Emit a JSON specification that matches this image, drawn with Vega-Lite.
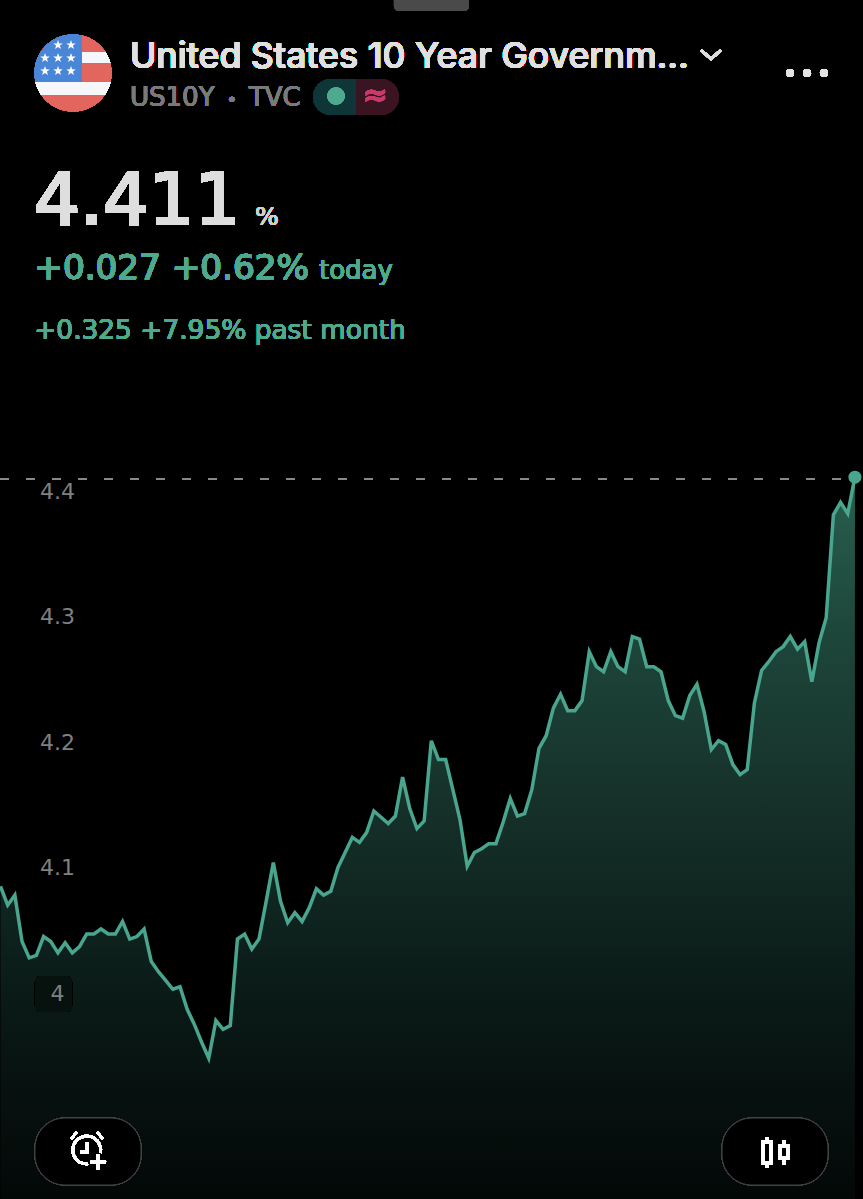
{
"$schema":"https://vega.github.io/schema/vega-lite/v6.json",
"width":863,"height":1199,"padding":0,"autosize":{"type":"none"},
"background":"#000000",
"config":{"view":{"stroke":null},"text":{"font":"DejaVu Sans"}},
"data":{"values":[
{"i":0,"y":4.085},{"i":1,"y":4.070},{"i":2,"y":4.078},{"i":3,"y":4.041},{"i":4,"y":4.028},{"i":5,"y":4.030},{"i":6,"y":4.045},{"i":7,"y":4.041},{"i":8,"y":4.032},{"i":9,"y":4.040},
{"i":10,"y":4.032},{"i":11,"y":4.037},{"i":12,"y":4.047},{"i":13,"y":4.047},{"i":14,"y":4.051},{"i":15,"y":4.047},{"i":16,"y":4.047},{"i":17,"y":4.057},{"i":18,"y":4.043},{"i":19,"y":4.045},
{"i":20,"y":4.051},{"i":21,"y":4.025},{"i":22,"y":4.017},{"i":23,"y":4.010},{"i":24,"y":4.003},{"i":25,"y":4.005},{"i":26,"y":3.987},{"i":27,"y":3.975},{"i":28,"y":3.961},{"i":29,"y":3.948},
{"i":30,"y":3.978},{"i":31,"y":3.971},{"i":32,"y":3.974},{"i":33,"y":4.043},{"i":34,"y":4.047},{"i":35,"y":4.035},{"i":36,"y":4.043},{"i":37,"y":4.073},{"i":38,"y":4.104},{"i":39,"y":4.073},
{"i":40,"y":4.056},{"i":41,"y":4.064},{"i":42,"y":4.057},{"i":43,"y":4.068},{"i":44,"y":4.083},{"i":45,"y":4.078},{"i":46,"y":4.081},{"i":47,"y":4.100},{"i":48,"y":4.112},{"i":49,"y":4.124},
{"i":50,"y":4.120},{"i":51,"y":4.128},{"i":52,"y":4.145},{"i":53,"y":4.140},{"i":54,"y":4.135},{"i":55,"y":4.141},{"i":56,"y":4.172},{"i":57,"y":4.147},{"i":58,"y":4.131},{"i":59,"y":4.137},
{"i":60,"y":4.201},{"i":61,"y":4.186},{"i":62,"y":4.186},{"i":63,"y":4.162},{"i":64,"y":4.138},{"i":65,"y":4.101},{"i":66,"y":4.112},{"i":67,"y":4.115},{"i":68,"y":4.119},{"i":69,"y":4.119},
{"i":70,"y":4.136},{"i":71,"y":4.155},{"i":72,"y":4.141},{"i":73,"y":4.143},{"i":74,"y":4.162},{"i":75,"y":4.195},{"i":76,"y":4.205},{"i":77,"y":4.227},{"i":78,"y":4.238},{"i":79,"y":4.225},
{"i":80,"y":4.225},{"i":81,"y":4.233},{"i":82,"y":4.272},{"i":83,"y":4.260},{"i":84,"y":4.256},{"i":85,"y":4.272},{"i":86,"y":4.260},{"i":87,"y":4.256},{"i":88,"y":4.284},{"i":89,"y":4.282},
{"i":90,"y":4.260},{"i":91,"y":4.260},{"i":92,"y":4.256},{"i":93,"y":4.233},{"i":94,"y":4.221},{"i":95,"y":4.219},{"i":96,"y":4.237},{"i":97,"y":4.246},{"i":98,"y":4.224},{"i":99,"y":4.194},
{"i":100,"y":4.201},{"i":101,"y":4.198},{"i":102,"y":4.182},{"i":103,"y":4.174},{"i":104,"y":4.178},{"i":105,"y":4.231},{"i":106,"y":4.257},{"i":107,"y":4.264},{"i":108,"y":4.272},{"i":109,"y":4.276},
{"i":110,"y":4.284},{"i":111,"y":4.274},{"i":112,"y":4.280},{"i":113,"y":4.248},{"i":114,"y":4.279},{"i":115,"y":4.299},{"i":116,"y":4.381},{"i":117,"y":4.391},{"i":118,"y":4.382},{"i":119,"y":4.411}
]},
"layer":[
{"mark":{"type":"area","interpolate":"linear","fill":{"gradient":"linear","x1":0,"y1":0,"x2":0,"y2":1,"stops":[{"offset":0,"color":"#28604f"},{"offset":0.2,"color":"#1e483c"},{"offset":0.45,"color":"#16312a"},{"offset":0.72,"color":"#0a1a17"},{"offset":1,"color":"#030807"}]}},
 "encoding":{
  "x":{"field":"i","type":"quantitative","axis":null,"scale":{"domain":[-0.0696,120.125],"nice":false,"zero":false}},
  "y":{"field":"y","type":"quantitative","scale":{"domain":[3.83586,4.79124],"nice":false,"zero":false},
   "axis":{"title":null,"orient":"left","values":[4,4.1,4.2,4.3,4.4],"format":"~g","grid":false,"domain":false,"ticks":false,"labelAlign":"center","labelBaseline":"middle","labelPadding":-57,"labelFont":"DejaVu Sans","labelFontSize":22,"labelColor":"#808080","minExtent":0,"maxExtent":0,"zindex":2}},
  "y2":{"datum":3.83586}}},
{"mark":{"type":"rect","fill":"#07120f","cornerRadius":6},"encoding":{"x":{"datum":4.8},"x2":{"datum":9.96},"y":{"datum":4.0135},"y2":{"datum":3.9849}}},
{"mark":{"type":"line","color":"#4aa58e","strokeWidth":3.5,"strokeJoin":"miter","interpolate":"linear"},"encoding":{"x":{"field":"i","type":"quantitative"},"y":{"field":"y","type":"quantitative"}}},
{"mark":{"type":"rule","color":"#8a8a8a","strokeWidth":1,"strokeDash":[8,18]},"encoding":{"x":{"datum":0},"x2":{"datum":117.5},"y":{"datum":4.4095}}},
{"transform":[{"filter":"datum.i == 119"}],"mark":{"type":"point","filled":true,"fill":"#4aa58e","opacity":1,"size":170,"stroke":null},"encoding":{"x":{"field":"i","type":"quantitative"},"y":{"field":"y","type":"quantitative"}}},

{"mark":{"type":"rect","fill":"#4a4a4a","cornerRadiusBottomLeft":6,"cornerRadiusBottomRight":6},"encoding":{"x":{"datum":54.8},"x2":{"datum":65.25},"y":{"datum":4.79124},"y2":{"datum":4.7825}}},

{"mark":{"type":"point","shape":"M-1,0 A1,1 0 1 1 1,0 A1,1 0 1 1 -1,0 Z","size":5929,"filled":true,"fill":"#e2655e","stroke":null,"opacity":1},"encoding":{"x":{"datum":10.1},"y":{"datum":4.7331}}},
{"mark":{"type":"point","shape":"M0.234,-0.545 L0.838,-0.545 A1,1 0 0 1 0.966,-0.26 L0.234,-0.26 Z M-0.972,0.234 L0.972,0.234 A1,1 0 0 1 0.821,0.571 L-0.821,0.571 A1,1 0 0 1 -0.972,0.234 Z","size":5929,"filled":true,"fill":"#f6f7fb","stroke":null,"opacity":1},"encoding":{"x":{"datum":10.1},"y":{"datum":4.7331}}},
{"mark":{"type":"point","shape":"M0.234,-0.972 L0.234,0.234 L-0.972,0.234 A1,1 0 0 1 0.234,-0.972 Z","size":5929,"filled":true,"fill":"#4a86d8","stroke":null,"opacity":1},"encoding":{"x":{"datum":10.1},"y":{"datum":4.7331}}},
{"data":{"values":[{"a":8.01,"b":4.7554},{"a":9.82,"b":4.7554},{"a":6.2,"b":4.745},{"a":8.01,"b":4.745},{"a":9.82,"b":4.745},{"a":6.2,"b":4.7347},{"a":8.01,"b":4.7347},{"a":9.82,"b":4.7347}]},
 "mark":{"type":"point","shape":"M0,-1 L0.24,-0.32 L0.95,-0.31 L0.38,0.12 L0.59,0.81 L0,0.4 L-0.59,0.81 L-0.38,0.12 L-0.95,-0.31 L-0.24,-0.32 Z","size":100,"filled":true,"fill":"#ffffff","stroke":null,"opacity":1},"encoding":{"x":{"field":"a","type":"quantitative"},"y":{"field":"b","type":"quantitative"}}},

{"mark":{"type":"text","text":"United States 10 Year Governm...","font":"Inter","align":"left","baseline":"alphabetic","fontSize":35.6,"fontWeight":500,"color":"#e0e0e0"},"encoding":{"x":{"datum":18.04},"y":{"datum":4.737}}},
{"mark":{"type":"point","shape":"M-1,-0.9 L0,0 L1,-0.9","size":400,"filled":false,"stroke":"#dddddd","strokeWidth":2.5,"opacity":1},"encoding":{"x":{"datum":98.95},"y":{"datum":4.7442}}},
{"mark":{"type":"point","shape":"M-1,0 A1,1 0 1 1 1,0 A1,1 0 1 1 -1,0 Z","size":64,"filled":true,"fill":"#e4e4e4","stroke":null,"opacity":1},"encoding":{"x":{"datum":109.96},"y":{"datum":4.7331}}},
{"mark":{"type":"point","shape":"M-1,0 A1,1 0 1 1 1,0 A1,1 0 1 1 -1,0 Z","size":64,"filled":true,"fill":"#e4e4e4","stroke":null,"opacity":1},"encoding":{"x":{"datum":112.33},"y":{"datum":4.7331}}},
{"mark":{"type":"point","shape":"M-1,0 A1,1 0 1 1 1,0 A1,1 0 1 1 -1,0 Z","size":64,"filled":true,"fill":"#e4e4e4","stroke":null,"opacity":1},"encoding":{"x":{"datum":114.69},"y":{"datum":4.7331}}},

{"mark":{"type":"text","text":"US10Y","align":"left","baseline":"alphabetic","fontSize":26,"color":"#7a7a7a"},"encoding":{"x":{"datum":18.04},"y":{"datum":4.7068}}},
{"mark":{"type":"text","text":"•","align":"center","baseline":"alphabetic","fontSize":18,"color":"#7a7a7a"},"encoding":{"x":{"datum":32.2},"y":{"datum":4.7068}}},
{"mark":{"type":"text","text":"TVC","align":"left","baseline":"alphabetic","fontSize":26,"color":"#7a7a7a"},"encoding":{"x":{"datum":34.6},"y":{"datum":4.7068}}},
{"mark":{"type":"rect","fill":"#0e3538","cornerRadiusTopLeft":18,"cornerRadiusBottomLeft":18},"encoding":{"x":{"datum":43.52},"x2":{"datum":49.51},"y":{"datum":4.7283},"y2":{"datum":4.6996}}},
{"mark":{"type":"rect","fill":"#3b1422","cornerRadiusTopRight":18,"cornerRadiusBottomRight":18},"encoding":{"x":{"datum":49.51},"x2":{"datum":55.5},"y":{"datum":4.7283},"y2":{"datum":4.6996}}},
{"mark":{"type":"point","shape":"M-1,0 A1,1 0 1 1 1,0 A1,1 0 1 1 -1,0 Z","size":290,"filled":true,"fill":"#4fa98f","stroke":null,"opacity":1},"encoding":{"x":{"datum":46.73},"y":{"datum":4.7147}}},
{"mark":{"type":"text","text":"≈","align":"center","baseline":"middle","fontSize":30,"fontWeight":700,"color":"#c83a6c"},"encoding":{"x":{"datum":52.15},"y":{"datum":4.7147}}},

{"mark":{"type":"text","text":"4.411","align":"left","baseline":"alphabetic","fontSize":72,"stroke":"#dedede","strokeWidth":2,"color":"#dedede"},"encoding":{"x":{"datum":4.7},"y":{"datum":4.6125}}},
{"mark":{"type":"text","text":"%","align":"left","baseline":"alphabetic","fontSize":25,"color":"#cfcfcf"},"encoding":{"x":{"datum":35.45},"y":{"datum":4.612}}},
{"mark":{"type":"text","text":"+0.027 +0.62%","align":"left","baseline":"alphabetic","fontSize":34.2,"color":"#4fa98f","stroke":"#4fa98f","strokeWidth":0.5},"encoding":{"x":{"datum":4.7},"y":{"datum":4.5689}}},
{"mark":{"type":"text","text":"today","align":"left","baseline":"alphabetic","fontSize":26,"color":"#4fa98f"},"encoding":{"x":{"datum":44.36},"y":{"datum":4.5689}}},
{"mark":{"type":"text","text":"+0.325 +7.95% past month","align":"left","baseline":"alphabetic","fontSize":26.4,"color":"#4fa98f"},"encoding":{"x":{"datum":4.7},"y":{"datum":4.5211}}},

{"mark":{"type":"rect","fill":"#000000","stroke":"#444444","strokeWidth":1,"cornerRadius":30},"encoding":{"x":{"datum":4.8},"x2":{"datum":19.57},"y":{"datum":3.9004},"y2":{"datum":3.847}}},
{"mark":{"type":"rect","fill":"#000000","stroke":"#444444","strokeWidth":1,"cornerRadius":30},"encoding":{"x":{"datum":100.49},"x2":{"datum":115.25},"y":{"datum":3.9004},"y2":{"datum":3.847}}},
{"mark":{"type":"point","shape":"M0.62,0.1 A0.7,0.7 0 1 0 0,0.65 M-0.05,-0.45 L-0.05,0.05 L-0.4,0.05 M-0.85,-0.6 L-0.55,-0.95 M0.75,-0.6 L0.45,-0.95 M0.5,0.15 L0.5,0.95 M0.1,0.55 L0.9,0.55","size":1600,"filled":false,"stroke":"#ffffff","strokeWidth":2.6,"opacity":1},"encoding":{"x":{"datum":12.19},"y":{"datum":3.8741}}},
{"mark":{"type":"point","shape":"M-0.6,-0.5 H-0.2 V0.55 H-0.6 Z M-0.4,-0.75 V-0.5 M-0.4,0.55 V0.8 M0.25,-0.3 H0.65 V0.3 H0.25 Z M0.45,-0.6 V-0.3 M0.45,0.3 V0.65","size":1600,"filled":false,"stroke":"#ffffff","strokeWidth":2.6,"opacity":1},"encoding":{"x":{"datum":107.87},"y":{"datum":3.8733}}}
]
}
